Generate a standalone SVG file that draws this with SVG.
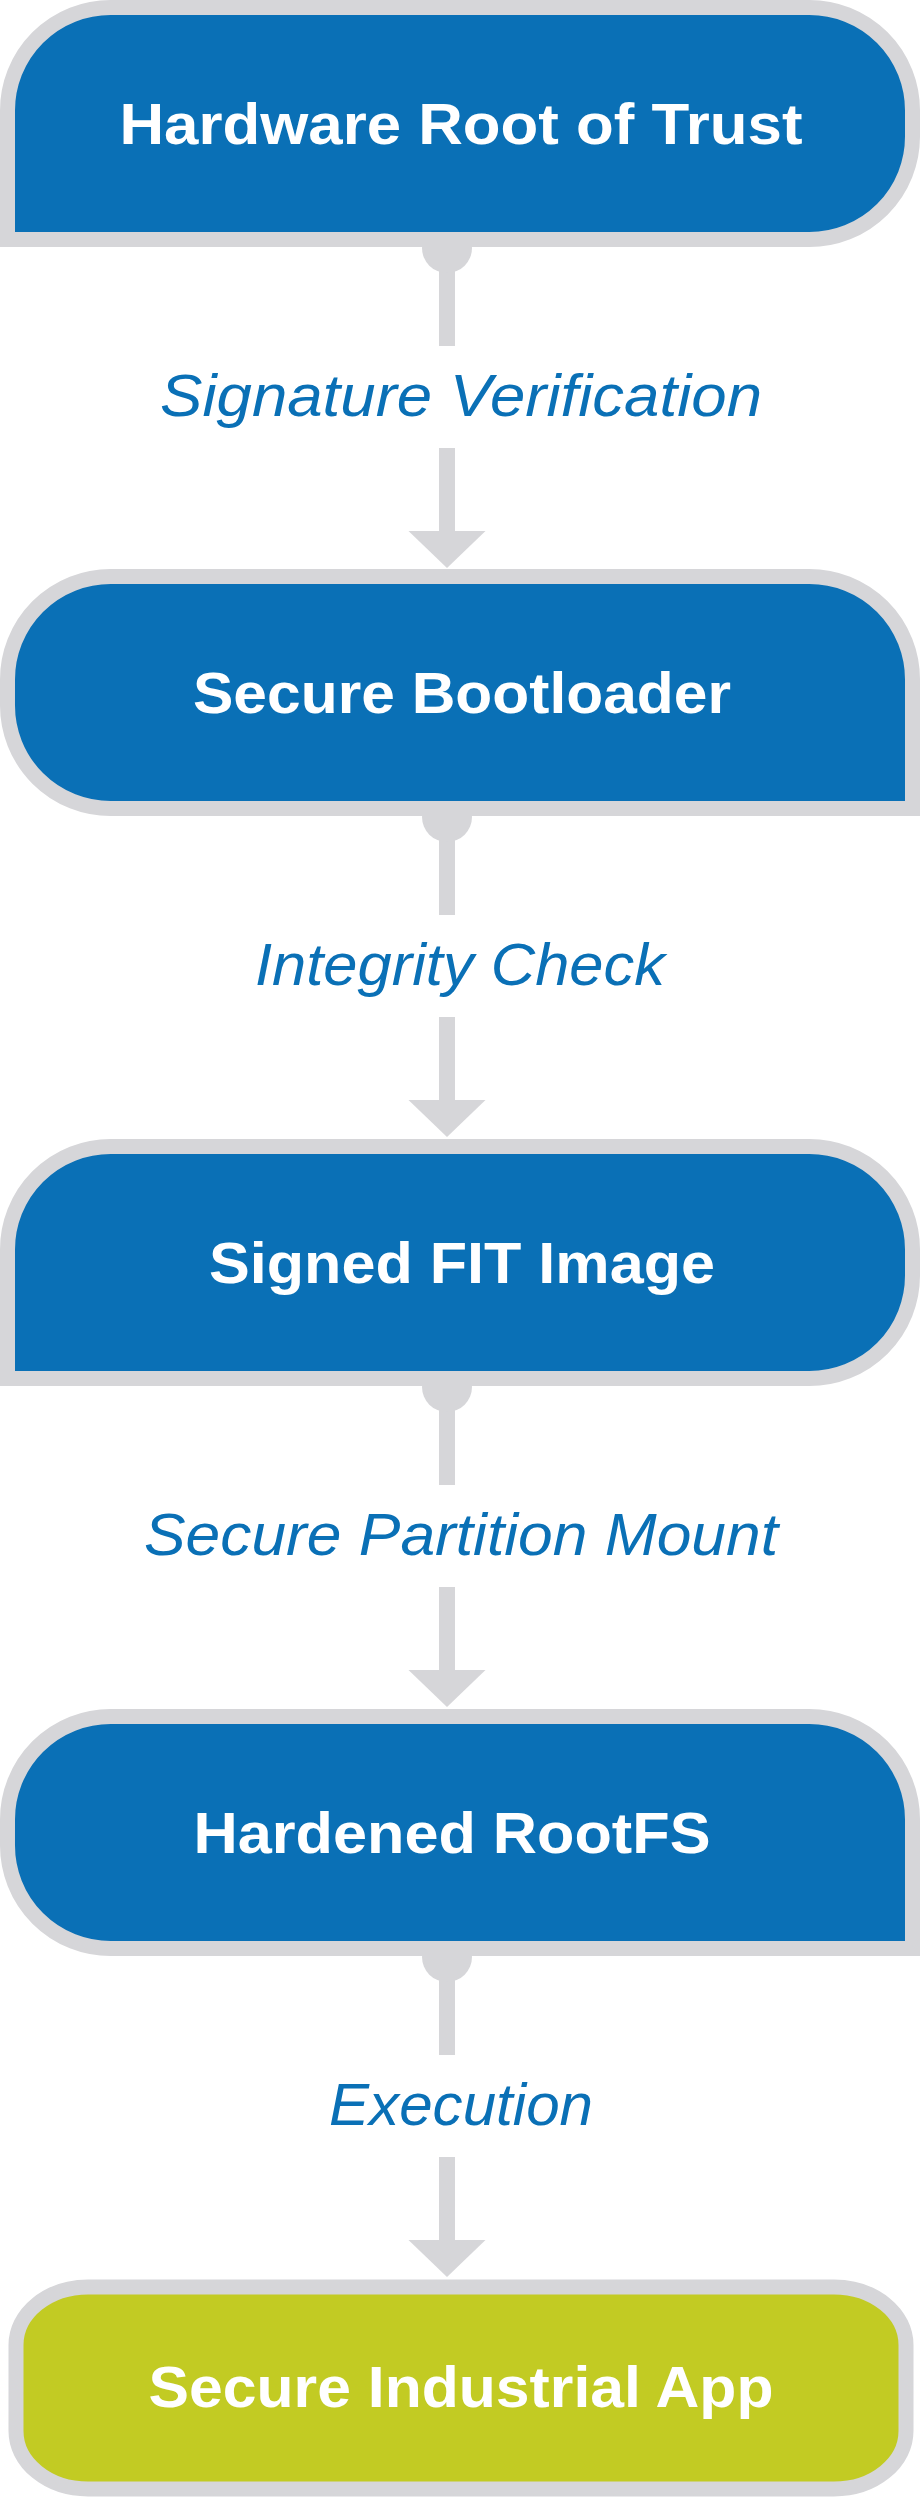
<svg xmlns="http://www.w3.org/2000/svg" width="920" height="2497" viewBox="0 0 920 2497">
<style>
.n{fill:#0a70b6;stroke:#d6d6d9;stroke-width:15}
.g{fill:#c2cb23;stroke:#d6d6d9;stroke-width:15}
.t{font-family:"Liberation Sans",Arial,sans-serif;font-weight:bold;font-size:58px;fill:#fff;text-anchor:middle}
.l{font-family:"Liberation Sans",Arial,sans-serif;font-style:italic;font-size:60px;fill:#0a70b6;text-anchor:middle}
.c{fill:none;stroke:#d6d6d9;stroke-width:16}
.d{fill:#d6d6d9}
</style>
<g id="connectors">
  <g id="e1"><line class="c" x1="447" y1="248" x2="447" y2="346"/><line class="c" x1="447" y1="448" x2="447" y2="533"/><polygon class="d" points="408.5,531 485.5,531 447,568"/><circle class="d" cx="447" cy="248" r="25"/><text class="l" x="461" y="416" textLength="602" lengthAdjust="spacingAndGlyphs">Signature Verification</text></g>
  <g id="e2"><line class="c" x1="447" y1="817" x2="447" y2="915"/><line class="c" x1="447" y1="1017" x2="447" y2="1102"/><polygon class="d" points="408.5,1100 485.5,1100 447,1137"/><circle class="d" cx="447" cy="817" r="25"/><text class="l" x="460" y="985" textLength="410" lengthAdjust="spacingAndGlyphs">Integrity Check</text></g>
  <g id="e3"><line class="c" x1="447" y1="1387" x2="447" y2="1485"/><line class="c" x1="447" y1="1587" x2="447" y2="1672"/><polygon class="d" points="408.5,1670 485.5,1670 447,1707"/><circle class="d" cx="447" cy="1387" r="25"/><text class="l" x="461" y="1555" textLength="634" lengthAdjust="spacingAndGlyphs">Secure Partition Mount</text></g>
  <g id="e4"><line class="c" x1="447" y1="1957" x2="447" y2="2055"/><line class="c" x1="447" y1="2157" x2="447" y2="2242"/><polygon class="d" points="408.5,2240 485.5,2240 447,2277"/><circle class="d" cx="447" cy="1957" r="25"/><text class="l" x="461" y="2125" textLength="264" lengthAdjust="spacingAndGlyphs">Execution</text></g>
</g>
<g id="n1"><path class="n" d="M7.5,110.5 A103,103 0 0 1 110.5,7.5 H809.5 A103,103 0 0 1 912.5,110.5 V136.5 A103,103 0 0 1 809.5,239.5 H7.5 Z"/><text class="t" x="461" y="144" textLength="683" lengthAdjust="spacingAndGlyphs">Hardware Root of Trust</text></g>
<g id="n2"><path class="n" d="M7.5,679.5 A103,103 0 0 1 110.5,576.5 H809.5 A103,103 0 0 1 912.5,679.5 V808.5 H110.5 A103,103 0 0 1 7.5,705.5 Z"/><text class="t" x="462" y="713" textLength="538" lengthAdjust="spacingAndGlyphs">Secure Bootloader</text></g>
<g id="n3"><path class="n" d="M7.5,1249.5 A103,103 0 0 1 110.5,1146.5 H809.5 A103,103 0 0 1 912.5,1249.5 V1275.5 A103,103 0 0 1 809.5,1378.5 H7.5 Z"/><text class="t" x="462" y="1283" textLength="506" lengthAdjust="spacingAndGlyphs">Signed FIT Image</text></g>
<g id="n4"><path class="n" d="M7.5,1819.5 A103,103 0 0 1 110.5,1716.5 H809.5 A103,103 0 0 1 912.5,1819.5 V1948.5 H110.5 A103,103 0 0 1 7.5,1845.5 Z"/><text class="t" x="452" y="1853" textLength="517" lengthAdjust="spacingAndGlyphs">Hardened RootFS</text></g>
<g id="n5"><rect class="g" x="16" y="2287" width="890" height="202" rx="72" ry="58"/><text class="t" x="461" y="2407" textLength="625" lengthAdjust="spacingAndGlyphs">Secure Industrial App</text></g>
</svg>
